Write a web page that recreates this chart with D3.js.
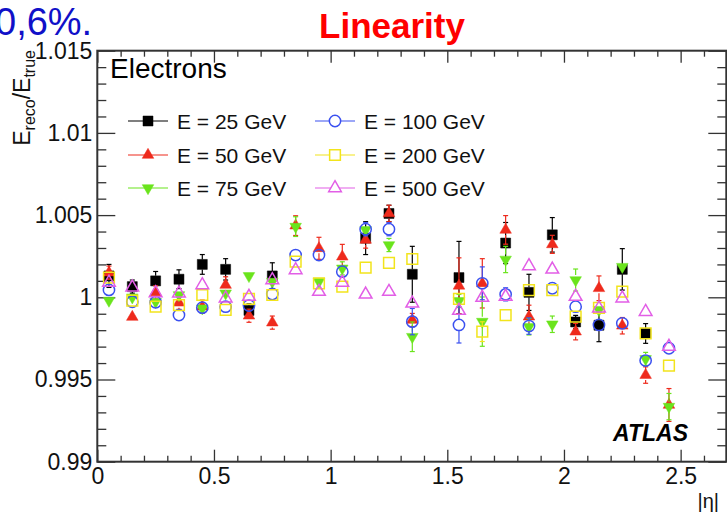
<!DOCTYPE html>
<html>
<head>
<meta charset="utf-8">
<script src="https://cdn.jsdelivr.net/npm/d3@7"></script>
<style>
  html, body { margin: 0; padding: 0; background: #fff; }
  svg { display: block; }
  text { font-family: "Liberation Sans", Arial, Helvetica, sans-serif; }
</style>
</head>
<body>
<svg id="chart" width="727" height="514"></svg>
<script>
// |eta| bin centres (no bin in the 1.37-1.52 crack)
const etaBins = [0.05, 0.15, 0.25, 0.35, 0.45, 0.55, 0.65, 0.75, 0.85, 0.95, 1.05, 1.15,
                 1.25, 1.35, 1.55, 1.65, 1.75, 1.85, 1.95, 2.05, 2.15, 2.25, 2.35, 2.45];

// E_reco / E_true per bin, one array per beam energy
const e25 = [1.0013, 1.00065, 1.0010, 1.0011, 1.0020, 1.0017, 0.9992, 1.0013, null, null, null, 1.0036,
             1.0051, 1.0014, 1.0012, null, 1.0033, 1.0003, 1.0038, 0.9985, 0.9983, 1.0017, 0.9978, null];
const e50 = [1.0015, 0.9988, 1.0003, 0.99967, 0.99943, 1.00075, 0.99888, 0.99846, 1.00436, 1.00298, 1.00247, 1.00349,
             1.0051, 0.99862, 1.0007, 1.00085, 1.0041, 0.99882, 1.00322, 0.99791, 1.00055, 0.99827, 0.99527, 0.99345];
const e75 = [0.9998, 1.0000, 0.99973, 1.00014, 0.99933, 1.00024, 1.0013, 1.00095, 1.0043, 1.00095, 1.00176, 1.0041,
             1.00318, 0.9976, 0.99978, 0.99852, 1.0023, 0.99821, 0.99836, 1.00105, 0.99923, 1.00186, 0.99625, 0.99335];
const e100 = [1.00045, 0.99973, 0.9997, 0.99892, 0.99937, 0.99943, 0.9995, 1.0002, 1.00257, 1.00257, 1.00156, 1.00414,
              1.00414, 0.99852, 0.99832, 1.00085, 1.00018, 0.99825, 1.00055, 0.99943, 0.99832, 0.99842, 0.99615, 0.9969];
const e200 = [1.0012, 0.9998, 0.99943, 0.99953, 1.00014, 0.99923, 0.9999, 1.00014, 1.00217, 1.00085, 1.00065, 1.0018,
              1.0021, 1.00233, 0.9999, 0.99791, 0.99892, 1.00044, 1.00044, 0.99882, 0.99935, 1.00034, 0.99781, 0.99584];
const e500 = [1.0009, 1.0006, 1.00026, 1.00024, 1.00075, 0.99994, 1.00004, 1.00105, 1.00166, 1.00034, 1.00089, 1.00018,
              1.00034, 0.99963, 0.99919, 0.99998, 1.00004, 1.0019, 1.0017, 1.00004, 0.99933, 0.99994, 0.99912, 0.997];

// statistical uncertainties
const err25 = [0.0007, 0.0004, 0.00057, 0.00057, 0.0006, 0.00065, 0.0004, 0.0008, 0, 0, 0, 0.001,
               0.0005, 0.0017, 0.0022, 0, 0.00125, 0.0011, 0.00105, 0.0004, 0.001, 0.00126, 0.0006, 0];
const err50 = [0.0004, 0.0003, 0.0004, 0.0004, 0.0004, 0.0005, 0.0004, 0.0004, 0.0006, 0.00067, 0.00075, 0.0005,
               0.0005, 0.0004, 0.0017, 0.0015, 0.00087, 0.0007, 0.00055, 0.0005, 0.00075, 0.0005, 0.0005, 0.001];
const err75 = [0.0003, 0.0003, 0.0003, 0.0003, 0.0003, 0.0003, 0.0003, 0.0003, 0.0006, 0.0003, 0.0004, 0.0003,
               0.0004, 0.0009, 0.0004, 0.0015, 0.0008, 0.0005, 0.0005, 0.00067, 0.0003, 0.0003, 0.0004, 0.0008];
const err100 = [0.0003, 0.0003, 0.0003, 0.0003, 0.0003, 0.0003, 0.0003, 0.0003, 0.0003, 0.0003, 0.0003, 0.0004,
                0.0004, 0.0008, 0.0011, 0.001, 0.0004, 0.0005, 0.0003, 0.0003, 0.0003, 0.0003, 0.0003, 0.0003];
const err200 = [0.0002, 0.0002, 0.0002, 0.0002, 0.0002, 0.0002, 0.0002, 0.0002, 0.0002, 0.0002, 0.0002, 0.0002,
                0.0002, 0.0003, 0.0003, 0.0006, 0.0003, 0.0002, 0.0002, 0.0002, 0.0002, 0.0002, 0.0002, 0.0003];
const err500 = [0.0002, 0.0002, 0.0002, 0.0002, 0.0002, 0.0002, 0.0002, 0.0002, 0.0002, 0.0002, 0.0002, 0.0002,
                0.0002, 0.0002, 0.0002, 0.0002, 0.0002, 0.0002, 0.0002, 0.0002, 0.0002, 0.0002, 0.0002, 0.0003];

const seriesLabels = ["E = 25 GeV", "E = 50 GeV", "E = 75 GeV", "E = 100 GeV", "E = 200 GeV", "E = 500 GeV"];
const xTickValues = [0, 0.5, 1, 1.5, 2, 2.5];
const yTickValues = [0.99, 0.995, 1, 1.005, 1.01, 1.015];

const series = [
  { label: seriesLabels[0], values: e25,  errors: err25,  color: "#000000", shape: "square",   filled: true },
  { label: seriesLabels[1], values: e50,  errors: err50,  color: "#ee2a1c", shape: "triUp",    filled: true },
  { label: seriesLabels[2], values: e75,  errors: err75,  color: "#6ae41c", shape: "triDown",  filled: true },
  { label: seriesLabels[3], values: e100, errors: err100, color: "#3a50f0", shape: "circle",   filled: false },
  { label: seriesLabels[4], values: e200, errors: err200, color: "#f2e41c", shape: "square",   filled: false },
  { label: seriesLabels[5], values: e500, errors: err500, color: "#e25ee6", shape: "triUp",    filled: false }
];

const svg = d3.select("#chart");
const frame = { left: 97.3, right: 727.3, top: 50.7, bottom: 461.7 };

const x = d3.scaleLinear().domain([0, 2.7]).range([frame.left, frame.right]);
const y = d3.scaleLinear().domain([0.99, 1.015]).range([frame.bottom, frame.top]);

const axisColor = "#333";

// ---- axes: major + minor ticks on all four sides, pointing inwards ----
function styleAxis(g) {
  g.select(".domain").remove();
  g.selectAll(".tick line").attr("stroke", axisColor).attr("stroke-width", 1.3);
  g.selectAll(".tick text").attr("fill", "#111").style("font-size", "23px")
    .style("font-family", "'Liberation Sans', Arial, Helvetica, sans-serif");
}
const xMinor = d3.range(0, 2.71, 0.1).map(v => +v.toFixed(2)).filter(v => Math.abs(v * 2 - Math.round(v * 2)) > 1e-6);
const yMinor = d3.range(0.99, 1.0151, 0.001).map(v => +v.toFixed(4))
  .filter(v => Math.abs(v * 200 - Math.round(v * 200)) > 1e-6);

svg.append("g").attr("transform", `translate(0,${frame.bottom})`)
  .call(d3.axisBottom(x).tickValues(xTickValues).tickSizeInner(-12).tickSizeOuter(0).tickPadding(6)
    .tickFormat(d => String(d)))
  .call(styleAxis)
  .call(g => g.selectAll(".tick text").attr("dy", "0.72em"));
svg.append("g").attr("transform", `translate(0,${frame.bottom})`)
  .call(d3.axisBottom(x).tickValues(xMinor).tickSizeInner(-6).tickSizeOuter(0).tickFormat(""))
  .call(styleAxis);
svg.append("g").attr("transform", `translate(0,${frame.top})`)
  .call(d3.axisTop(x).tickValues(xTickValues).tickSizeInner(-12).tickSizeOuter(0).tickFormat(""))
  .call(styleAxis);
svg.append("g").attr("transform", `translate(0,${frame.top})`)
  .call(d3.axisTop(x).tickValues(xMinor).tickSizeInner(-6).tickSizeOuter(0).tickFormat(""))
  .call(styleAxis);

svg.append("g").attr("transform", `translate(${frame.left},0)`)
  .call(d3.axisLeft(y).tickValues(yTickValues).tickSizeInner(-18).tickSizeOuter(0).tickPadding(5)
    .tickFormat(d => String(d)))
  .call(styleAxis);
svg.append("g").attr("transform", `translate(${frame.left},0)`)
  .call(d3.axisLeft(y).tickValues(yMinor).tickSizeInner(-9).tickSizeOuter(0).tickFormat(""))
  .call(styleAxis);
svg.append("g").attr("transform", `translate(${frame.right - 1},0)`)
  .call(d3.axisRight(y).tickValues(yTickValues).tickSizeInner(-18).tickSizeOuter(0).tickFormat(""))
  .call(styleAxis);
svg.append("g").attr("transform", `translate(${frame.right - 1},0)`)
  .call(d3.axisRight(y).tickValues(yMinor).tickSizeInner(-9).tickSizeOuter(0).tickFormat(""))
  .call(styleAxis);

// frame
svg.append("rect")
  .attr("x", frame.left).attr("y", frame.top)
  .attr("width", frame.right - 1 - frame.left).attr("height", frame.bottom - frame.top)
  .attr("fill", "none").attr("stroke", axisColor).attr("stroke-width", 2);

// ---- markers ----
const symbolSize = { square: 100, triUp: 58, triDown: 58, circle: 100 };
function markerPath(s, open) {
  const type = s === "square" ? d3.symbolSquare : s === "circle" ? d3.symbolCircle : d3.symbolTriangle;
  const size = symbolSize[s] * (open && s === "square" ? 1.15 : 1) * (open && s === "triUp" ? 1.2 : 1);
  return d3.symbol().type(type).size(size)();
}
const markerHalf = 5;

const plot = svg.append("g");
series.forEach(s => {
  const pts = etaBins.map((eta, i) => ({ eta, v: s.values[i], e: s.errors[i] })).filter(p => p.v !== null);
  const g = plot.append("g");

  // error bars drawn outside the marker, with small end caps
  pts.forEach(p => {
    const cx = x(p.eta), cy = y(p.v);
    const yTop = y(p.v + p.e), yBot = y(p.v - p.e);
    if (cy - yTop > markerHalf) {
      g.append("line").attr("x1", cx).attr("x2", cx).attr("y1", yTop).attr("y2", cy - markerHalf)
        .attr("stroke", s.color).attr("stroke-width", 1.2);
      g.append("line").attr("x1", cx - 2.5).attr("x2", cx + 2.5).attr("y1", yTop).attr("y2", yTop)
        .attr("stroke", s.color).attr("stroke-width", 1.2);
    }
    if (yBot - cy > markerHalf) {
      g.append("line").attr("x1", cx).attr("x2", cx).attr("y1", cy + markerHalf).attr("y2", yBot)
        .attr("stroke", s.color).attr("stroke-width", 1.2);
      g.append("line").attr("x1", cx - 2.5).attr("x2", cx + 2.5).attr("y1", yBot).attr("y2", yBot)
        .attr("stroke", s.color).attr("stroke-width", 1.2);
    }
  });

  g.selectAll("path.mk").data(pts).join("path")
    .attr("class", "mk")
    .attr("d", markerPath(s.shape, !s.filled))
    .attr("transform", p => `translate(${x(p.eta)},${y(p.v)})${s.shape === "triDown" ? " rotate(180)" : ""}`)
    .attr("fill", s.filled ? s.color : "none")
    .attr("stroke", s.color)
    .attr("stroke-width", s.filled ? 0.5 : 1.5);
});

// ---- legend (two columns of three) ----
const legendCols = [128, 315];
const legendRows = [121, 155, 188];
series.forEach((s, i) => {
  const lx = legendCols[Math.floor(i / 3)], ly = legendRows[i % 3];
  const g = svg.append("g").attr("transform", `translate(${lx},${ly})`);
  g.append("line").attr("x1", 0).attr("x2", 40).attr("y1", 0).attr("y2", 0)
    .attr("stroke", s.color).attr("stroke-width", 1.2);
  g.append("path").attr("d", markerPath(s.shape, !s.filled))
    .attr("transform", `translate(20,0)${s.shape === "triDown" ? " rotate(180)" : ""}`)
    .attr("fill", s.filled ? s.color : "#fff").attr("stroke", s.color)
    .attr("stroke-width", s.filled ? 0.5 : 1.5);
  g.append("text").attr("x", 49).attr("y", 0).attr("dy", "0.36em")
    .style("font-size", "21px").attr("fill", "#111").text(s.label);
});

// ---- annotations ----
svg.append("text").attr("x", 110).attr("y", 78).style("font-size", "28px").attr("fill", "#000")
  .text("Electrons");

svg.append("text").attr("x", 688).attr("y", 441).attr("text-anchor", "end")
  .style("font-size", "23px").style("font-weight", "bold").style("font-style", "italic")
  .attr("fill", "#000").text("ATLAS");

svg.append("text").attr("x", 719).attr("y", 508).attr("text-anchor", "end")
  .style("font-size", "20px").attr("fill", "#111").text("|η|");

// y-axis title, rotated and aligned to the top of the axis
const yTitle = svg.append("text")
  .attr("transform", "translate(30,50) rotate(-90)")
  .attr("text-anchor", "end")
  .style("font-size", "23px").attr("fill", "#111");
yTitle.append("tspan").text("E");
yTitle.append("tspan").attr("dy", 5).style("font-size", "16px").text("reco");
yTitle.append("tspan").attr("dy", -5).text("/E");
yTitle.append("tspan").attr("dy", 5).style("font-size", "16px").text("true");

// slide header fragments
svg.append("text").attr("x", 392).attr("y", 38).attr("text-anchor", "middle")
  .style("font-size", "35px").style("font-weight", "bold").attr("fill", "#ff0000")
  .text("Linearity");
svg.append("text").attr("x", -5).attr("y", 35).attr("text-anchor", "start")
  .style("font-size", "38px").attr("fill", "#1010c8")
  .text("0,6%.");
</script>
</body>
</html>
